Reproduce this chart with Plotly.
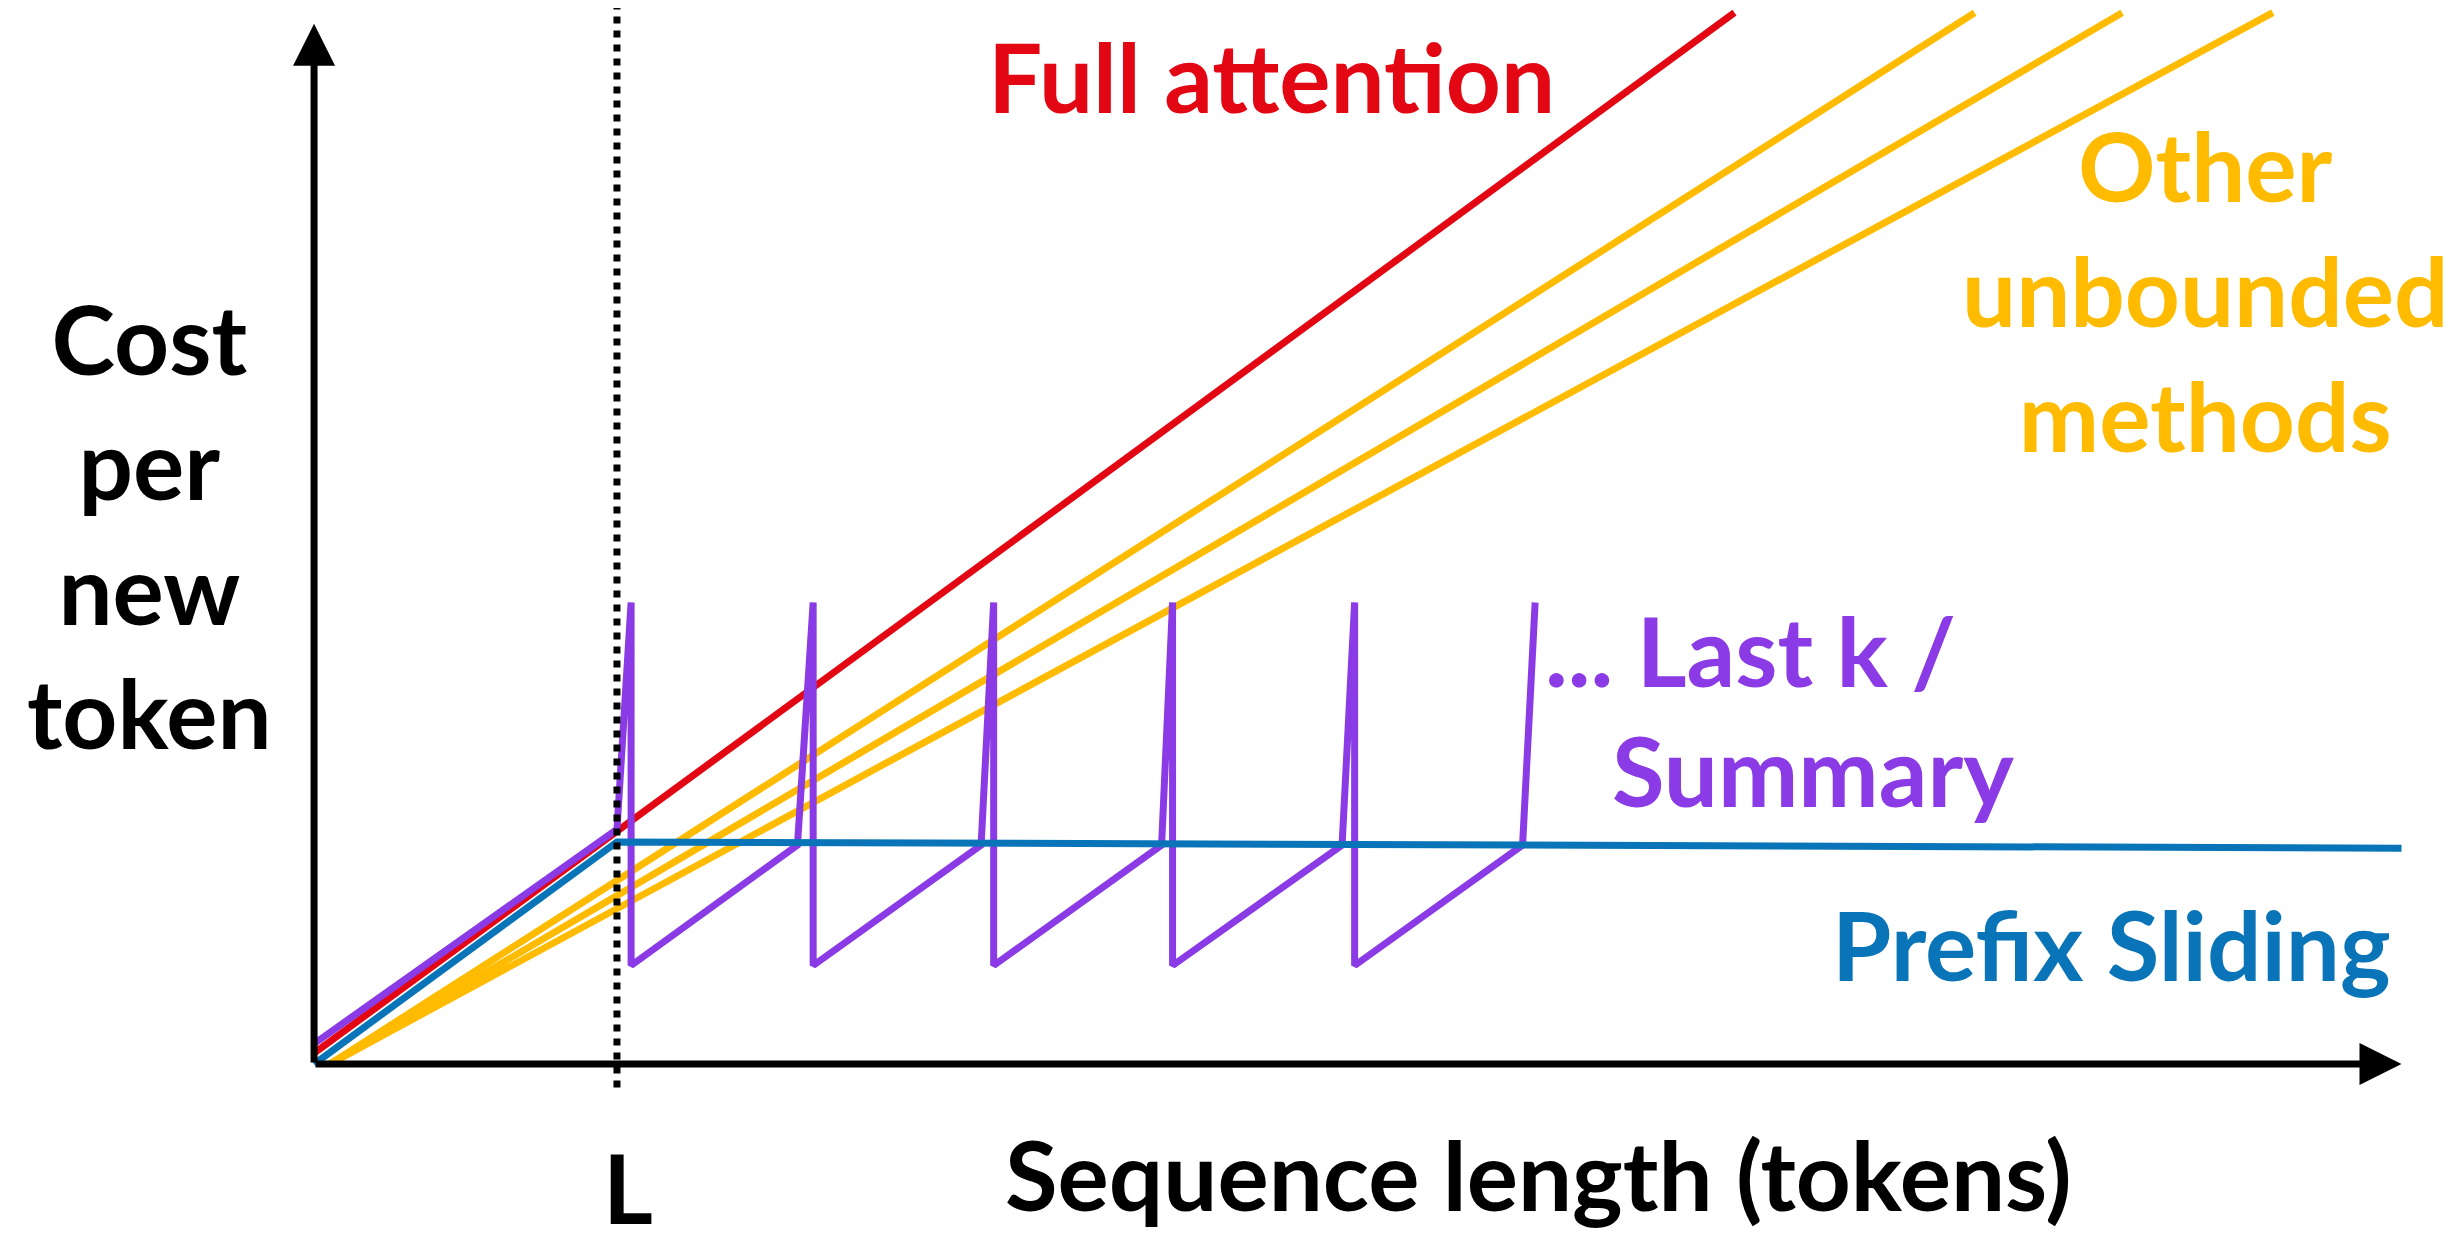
import plotly.graph_objects as go

# data units: x = tokens (arbitrary), y = cost (arbitrary)
L = 193

full_x = [0, 905]
full_y = [7, 672]

other_x = [[10, 1058], [10, 1152], [10, 1248]]
other_y = [[0, 672], [0, 672], [0, 672]]

prefix_x = [0, L, 1330]
prefix_y = [0, 142, 138]

lastk_x = [0, 193, 202, 202, 308, 318, 318, 425, 433, 433, 540, 547, 547, 655, 663, 663, 770, 778]
lastk_y = [13, 150, 295, 63, 140, 295, 63, 140, 295, 63, 140, 295, 63, 140, 295, 63, 140, 295]

RED = "#e30613"
YEL = "#ffbb00"
BLUE = "#0a74b8"
PURP = "#8a3be6"
FONT = "Lato"
FS = 96

fig = go.Figure()
for xs, ys in zip(other_x, other_y):
    fig.add_trace(go.Scatter(x=xs, y=ys, mode="lines", line=dict(color=YEL, width=7)))
fig.add_trace(go.Scatter(x=full_x, y=full_y, mode="lines", line=dict(color=RED, width=7)))
fig.add_trace(go.Scatter(x=lastk_x, y=lastk_y, mode="lines", line=dict(color=PURP, width=7)))
fig.add_trace(go.Scatter(x=prefix_x, y=prefix_y, mode="lines", line=dict(color=BLUE, width=7)))

# dashed L marker
fig.add_shape(type="line", x0=L, x1=L, y0=-15, y1=675, line=dict(color="black", width=7, dash="dot"))

# axes arrows
for (x0, y0, x1, y1) in [(0, 0, 0, 665), (0, 0, 1330, 0)]:
    fig.add_annotation(x=x1, y=y1, ax=x0, ay=y0, xref="x", yref="y", axref="x", ayref="y",
                       showarrow=True, arrowhead=2, arrowsize=1.2, arrowwidth=7,
                       arrowcolor="black", text="")

def label(txt, x, y, color, align="center"):
    fig.add_annotation(x=x, y=y, xref="x", yref="y", text=txt, showarrow=False,
                       align=align, font=dict(family=FONT, size=FS, color=color, weight="bold"))

label("Full attention", 610, 632, RED)
label("Other<br>unbounded<br>methods", 1205, 495, YEL)
label("Cost<br>per<br>new<br>token", -105, 345, "black")
label("... Last k /", 915, 265, PURP)
label("Summary", 955, 188, PURP)
label("Prefix Sliding", 1145, 77, BLUE)
label("Sequence length (tokens)", 780, -70, "black")
label("L", 200, -78, "black")

fig.update_layout(
    width=2461, height=1236, margin=dict(l=0, r=0, t=0, b=0),
    plot_bgcolor="white", paper_bgcolor="white", showlegend=False,
    xaxis=dict(range=[-195, 1373], visible=False),
    yaxis=dict(range=[-115, 675], visible=False),
)
fig.write_html("out.html")
